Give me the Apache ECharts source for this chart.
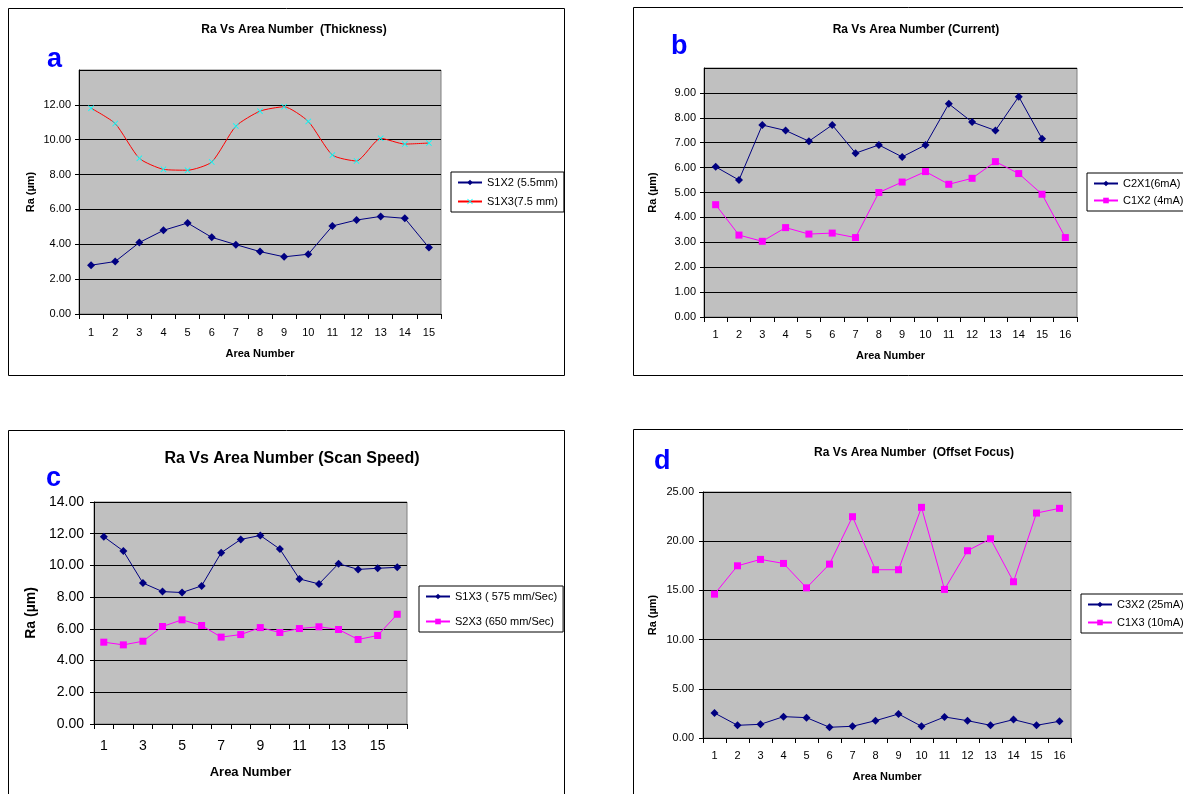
<!DOCTYPE html>
<html>
<head>
<meta charset="utf-8">
<script src="https://cdn.jsdelivr.net/npm/echarts@6/dist/echarts.min.js"></script>
<style>
html,body{margin:0;padding:0;background:#fff;}
#c{width:1183px;height:794px;}
</style>
</head>
<body>
<div id="c"></div>
<script>
// ---- data ----
var catsA = ['1','2','3','4','5','6','7','8','9','10','11','12','13','14','15'];
var catsB = ['1','2','3','4','5','6','7','8','9','10','11','12','13','14','15','16'];
var catsC = ['1','2','3','4','5','6','7','8','9','10','11','12','13','14','15','16'];
var catsD = ['1','2','3','4','5','6','7','8','9','10','11','12','13','14','15','16'];

var aS1X2 = [2.80, 3.01, 4.10, 4.80, 5.22, 4.40, 3.98, 3.58, 3.28, 3.43, 5.05, 5.39, 5.60, 5.49, 3.81];
var aS1X3 = [11.81, 10.93, 8.93, 8.30, 8.25, 8.72, 10.78, 11.64, 11.89, 11.05, 9.12, 8.78, 10.08, 9.75, 9.81];

var bC2X1 = [6.03, 5.50, 7.71, 7.49, 7.06, 7.71, 6.58, 6.91, 6.43, 6.91, 8.56, 7.83, 7.49, 8.85, 7.16];
var bC1X2 = [4.51, 3.29, 3.04, 3.59, 3.33, 3.37, 3.19, 5.00, 5.42, 5.84, 5.33, 5.57, 6.24, 5.76, 4.93, 3.19];

var cS1X3 = [11.81, 10.91, 8.89, 8.35, 8.29, 8.71, 10.80, 11.64, 11.89, 11.03, 9.15, 8.83, 10.11, 9.75, 9.82, 9.88];
var cS2X3 = [5.16, 4.99, 5.22, 6.15, 6.57, 6.21, 5.48, 5.64, 6.08, 5.77, 6.02, 6.13, 5.96, 5.33, 5.58, 6.92];

var dC3X2 = [2.54, 1.29, 1.39, 2.17, 2.07, 1.09, 1.19, 1.76, 2.44, 1.19, 2.14, 1.76, 1.29, 1.87, 1.29, 1.70];
var dC1X3 = [14.62, 17.50, 18.15, 17.74, 15.26, 17.67, 22.49, 17.10, 17.10, 23.44, 15.10, 19.03, 20.25, 15.88, 22.86, 23.34];

var titles = ['Ra Vs Area Number  (Thickness)', 'Ra Vs Area Number (Current)', 'Ra Vs Area Number (Scan Speed)', 'Ra Vs Area Number  (Offset Focus)'];
var letters = ['a', 'b', 'c', 'd'];
var names = {
  a1: 'S1X2 (5.5mm)', a2: 'S1X3(7.5 mm)',
  b1: 'C2X1(6mA)', b2: 'C1X2 (4mA)',
  c1: 'S1X3 ( 575 mm/Sec)', c2: 'S2X3 (650 mm/Sec)',
  d1: 'C3X2 (25mA)', d2: 'C1X3 (10mA)'
};
var yName = 'Ra (µm)';
var xName = 'Area Number';

// ---- chart ----
var FONT = 'Liberation Sans, Arial, sans-serif';
var NAVY = '#000080', MAG = '#ff00ff', RED = '#ff0000', CYAN = '#00ffff';
var XSYM = 'path://M0,1L1,0L5,4L9,0L10,1L6,5L10,9L9,10L5,6L1,10L0,9L4,5Z';

var grids = [
  {left: 79, top: 70, width: 362, height: 244},
  {left: 704, top: 68, width: 373, height: 249},
  {left: 94, top: 502, width: 313, height: 222},
  {left: 703, top: 492, width: 368, height: 246}
].map(function (g) {
  return Object.assign({show: true, backgroundColor: '#c0c0c0', borderColor: '#808080', borderWidth: 1, containLabel: false}, g);
});

function xAxis(idx, cats, fs, labelMargin, nameGap, nameFs, labelInterval) {
  return {
    gridIndex: idx, type: 'category', data: cats, boundaryGap: true,
    name: xName, nameLocation: 'middle', nameGap: nameGap,
    nameTextStyle: {fontFamily: FONT, fontWeight: 'bold', fontSize: nameFs, color: '#000'},
    axisLine: {lineStyle: {color: '#000', width: 1}},
    axisTick: {show: true, length: 5, interval: 0, alignWithLabel: false, lineStyle: {color: '#000'}},
    axisLabel: {fontFamily: FONT, fontSize: fs, color: '#000', margin: labelMargin, interval: labelInterval},
    splitLine: {show: false}
  };
}
function yAxis(idx, max, interval, fs, labelMargin, nameGap, nameFs, showMax) {
  return {
    gridIndex: idx, type: 'value', min: 0, max: max, interval: interval,
    name: yName, nameLocation: 'middle', nameGap: nameGap, nameRotate: 90,
    nameTextStyle: {fontFamily: FONT, fontWeight: 'bold', fontSize: nameFs, color: '#000'},
    axisLine: {show: true, lineStyle: {color: '#000', width: 1}},
    axisTick: {show: true, length: 4, lineStyle: {color: '#000'}},
    axisLabel: {fontFamily: FONT, fontSize: fs, color: '#000', margin: labelMargin, showMaxLabel: showMax,
      formatter: function (v) { return v.toFixed(2); }},
    splitLine: {show: true, lineStyle: {color: '#000', width: 1}}
  };
}

function lineSeries(name, idx, data, color, symbol, symSize, symColor, smooth) {
  return {
    name: name, type: 'line', xAxisIndex: idx, yAxisIndex: idx, data: data,
    symbol: symbol, symbolSize: symSize, showSymbol: true, smooth: smooth || false,
    lineStyle: {color: color, width: 1},
    itemStyle: {color: symColor || color, borderWidth: 0},
    emphasis: {disabled: true}, animation: false
  };
}

function legend(names, left, top, gap, fs) {
  return {
    data: names, orient: 'vertical', left: left, top: top, itemGap: gap,
    itemWidth: 24, itemHeight: 7, padding: [5, 6, 5, 6],
    borderColor: '#000', borderWidth: 1, backgroundColor: '#fff', borderRadius: 0,
    textStyle: {fontFamily: FONT, fontSize: fs, color: '#000'},
    selectedMode: false
  };
}

function title(text, cx, top, fs) {
  return {text: text, left: cx, top: top, textAlign: 'center',
    textStyle: {fontFamily: FONT, fontWeight: 'bold', fontSize: fs, color: '#000'}};
}
function letter(text, cx, cy) {
  return {type: 'text', left: cx - 8, top: cy - 14, z: 10,
    style: {text: text, fill: '#0000ff', font: 'bold 27px ' + FONT}};
}
function box(x, y, w, h) {
  return {type: 'rect', shape: {x: x, y: y, width: w, height: h}, z: 0,
    style: {fill: 'none', stroke: '#000', lineWidth: 1}};
}

var option = {
  backgroundColor: '#fff',
  animation: false,
  title: [
    title(titles[0], 289, 19, 12),
    title(titles[1], 911, 19, 12),
    title(titles[2], 287, 446, 16),
    title(titles[3], 909, 442, 12)
  ],
  grid: grids,
  xAxis: [
    xAxis(0, catsA, 11, 13, 34, 11, 0),
    xAxis(1, catsB, 11, 12, 33, 11, 0),
    xAxis(2, catsC, 14, 15, 42, 13, 1),
    xAxis(3, catsD, 11, 12, 33, 11, 0)
  ],
  yAxis: [
    yAxis(0, 14, 2, 11, 8, 43, 11, false),
    yAxis(1, 10, 1, 11, 8, 46, 11, false),
    yAxis(2, 14, 2, 14, 10, 56, 14, true),
    yAxis(3, 25, 5, 11, 9, 45, 11, true)
  ],
  legend: [
    legend([names.a1, names.a2], 451, 172, 8, 11),
    legend([names.b1, names.b2], 1087, 173, 6, 11),
    legend([names.c1, names.c2], 419, 586, 14, 11),
    legend([names.d1, names.d2], 1081, 594, 7, 11)
  ],
  series: [
    lineSeries(names.a1, 0, aS1X2, NAVY, 'diamond', 8),
    lineSeries(names.a2, 0, aS1X3, RED, XSYM, 6, CYAN, 0.2),
    lineSeries(names.b1, 1, bC2X1, NAVY, 'diamond', 8),
    lineSeries(names.b2, 1, bC1X2, MAG, 'rect', 7),
    lineSeries(names.c1, 2, cS1X3, NAVY, 'diamond', 8),
    lineSeries(names.c2, 2, cS2X3, MAG, 'rect', 7),
    lineSeries(names.d1, 3, dC3X2, NAVY, 'diamond', 8),
    lineSeries(names.d2, 3, dC1X3, MAG, 'rect', 7)
  ],
  graphic: [
    box(8.5, 8.5, 556, 367),
    box(633.5, 7.5, 600, 368),
    box(8.5, 430.5, 556, 420),
    box(633.5, 429.5, 600, 420),
    letter(letters[0], 55, 60),
    letter(letters[1], 679, 47),
    letter(letters[2], 54, 479),
    letter(letters[3], 662, 462)
  ]
};

var chart = echarts.init(document.getElementById('c'), null, {renderer: 'canvas'});
chart.setOption(option);
</script>
</body>
</html>
